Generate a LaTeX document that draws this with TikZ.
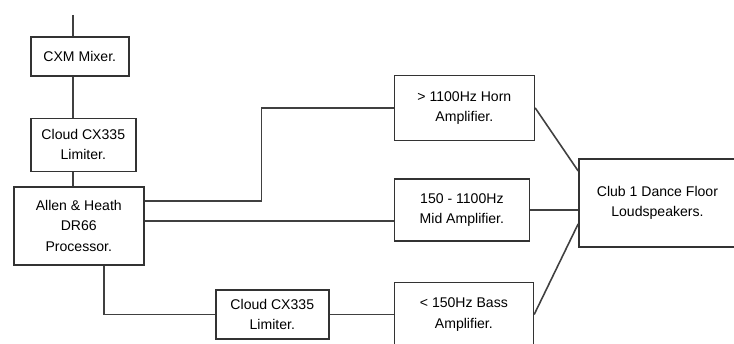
\documentclass[tikz,border=0pt]{standalone}
\usepackage{fontspec}
\setmainfont{Liberation Sans}
\usetikzlibrary{positioning, calc}
\tikzset{
    box/.style={
        draw=black!80,
        line width=0.9pt,
        align=center,
        inner sep=2pt
    },
    wire/.style={draw=black!75, line width=0.9pt},
    every node/.style={font=\fontsize{8}{11.5}\selectfont}
}
\begin{document}
\begin{tikzpicture}
\useasboundingbox (0,0) rectangle (14.68,-6.88);

\node[box, minimum width=1.96cm, minimum height=0.78cm, anchor=north west] (mixer) at (0.6,-0.72) {CXM Mixer.};
\node[box, minimum width=2.1cm, minimum height=1.06cm, below=0.82cm of mixer.south west, anchor=north west] (lim1) {Cloud CX335\\Limiter.};
\node[box, minimum width=2.6cm, minimum height=1.56cm, below=0.28cm of lim1.south west, anchor=north west, xshift=-0.34cm] (proc) {Allen \& Heath\\DR66\\Processor.};

\node[box, minimum width=2.7cm, minimum height=1.24cm, right=4.98cm of proc, yshift=0.32cm] (mid) {150 - 1100Hz\\Mid Amplifier.};
\node[box, minimum width=2.8cm, minimum height=1.3cm, above=0.74cm of mid.north west, anchor=south west] (horn) {> 1100Hz Horn\\Amplifier.};
\node[box, minimum width=2.78cm, minimum height=1.28cm, below=0.8cm of mid.south west, anchor=north west] (bass) {< 150Hz Bass\\Amplifier.};
\node[box, minimum width=2.26cm, minimum height=0.98cm, left=1.28cm of bass] (lim2) {Cloud CX335\\Limiter.};
\node[box, minimum width=3.14cm, minimum height=1.76cm, right=0.96cm of mid, yshift=0.14cm] (club) {Club 1 Dance Floor\\Loudspeakers.};

% signal chain down the left column
\coordinate[above=0.42cm of mixer.north west, xshift=0.86cm] (feed);
\draw[wire] (feed) -- (feed |- mixer.north);
\draw[wire] (feed |- mixer.south) -- (feed |- lim1.north);
\draw[wire] (feed |- lim1.south) -- (feed |- proc.north);

% processor outputs
\draw[wire] ([yshift=0.5cm]proc.east) -- ++(2.34,0) |- (horn.west);
\draw[wire] ([yshift=0.1cm]proc.east) -- ([yshift=0.1cm]proc.east -| mid.west);
\draw[wire] ([xshift=0.5cm]proc.south) |- (lim2.west);
\draw[wire] (lim2) -- (bass);

% amplifiers to loudspeakers
\draw[wire] (horn.east) -- ([yshift=0.64cm]club.west);
\draw[wire] (mid.east) -- (mid.east -| club.west);
\draw[wire] (bass.east) -- ([yshift=-0.42cm]club.west);
\end{tikzpicture}
\end{document}
